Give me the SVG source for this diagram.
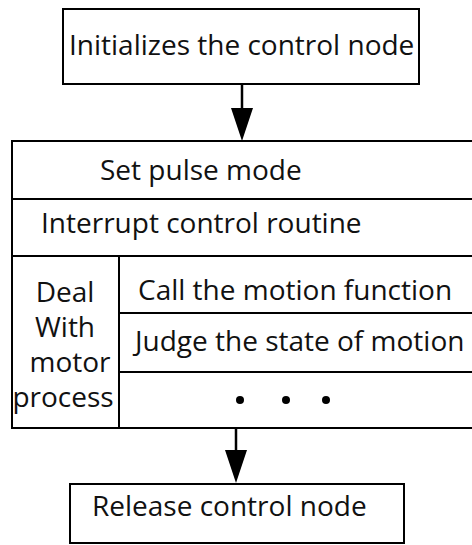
<svg xmlns="http://www.w3.org/2000/svg" width="472" height="545" viewBox="0 0 472 545">
  <style>
    .box { fill: #ffffff; stroke: #000000; stroke-width: 2; }
    .rule { stroke: #000000; stroke-width: 2; fill: none; }
    .label { font-family: "Open Sans", "Noto Sans", sans-serif; font-size: 28px; fill: #111111; }
    .mid { text-anchor: middle; }
    .flow { stroke: #000000; stroke-width: 2.5; fill: none; marker-end: url(#head); }
  </style>
  <defs>
    <marker id="head" viewBox="0 0 33 22" refX="12" refY="11" markerWidth="33" markerHeight="22" markerUnits="userSpaceOnUse" orient="auto">
      <path d="M0,0 L33,11 L0,22 Z" fill="#000000"/>
    </marker>
  </defs>

  <rect width="472" height="545" fill="#ffffff"/>

  <!-- start step -->
  <g id="init">
    <rect class="box" x="63" y="9" width="356" height="75"/>
    <text class="label" x="69" y="55">Initializes the control node</text>
  </g>

  <!-- routine block: stacked rows, right edge runs past the canvas -->
  <g id="routine">
    <rect class="box" x="12" y="141" width="470" height="287"/>
    <line class="rule" x1="12" y1="199" x2="482" y2="199"/>
    <line class="rule" x1="12" y1="256" x2="482" y2="256"/>
    <line class="rule" x1="119" y1="256" x2="119" y2="428"/>
    <line class="rule" x1="119" y1="313" x2="482" y2="313"/>
    <line class="rule" x1="119" y1="372" x2="482" y2="372"/>
  </g>

  <g id="pulse">
    <text class="label" x="100" y="180">Set pulse mode</text>
  </g>

  <g id="interrupt">
    <text class="label" x="41" y="233">Interrupt control routine</text>
  </g>

  <g id="motor">
    <text class="label mid" x="65" y="302">Deal</text>
    <text class="label mid" x="65" y="337">With</text>
    <text class="label mid" x="70" y="372">motor</text>
    <text class="label mid" x="63" y="407">process</text>
  </g>

  <g id="call">
    <text class="label" x="138" y="300">Call the motion function</text>
  </g>

  <g id="judge">
    <text class="label" x="135" y="351">Judge the state of motion</text>
  </g>

  <g id="more">
    <circle cx="240" cy="400" r="4" fill="#000000"/>
    <circle cx="286" cy="400" r="4" fill="#000000"/>
    <circle cx="326" cy="400" r="4" fill="#000000"/>
  </g>

  <!-- end step -->
  <g id="release">
    <rect class="box" x="70" y="484" width="334" height="59"/>
    <text class="label" x="92" y="516">Release control node</text>
  </g>

  <!-- connectors -->
  <g id="connectors">
    <line class="flow" x1="242" y1="84" x2="242" y2="120"/>
    <line class="flow" x1="236" y1="428" x2="236" y2="462"/>
  </g>
</svg>
